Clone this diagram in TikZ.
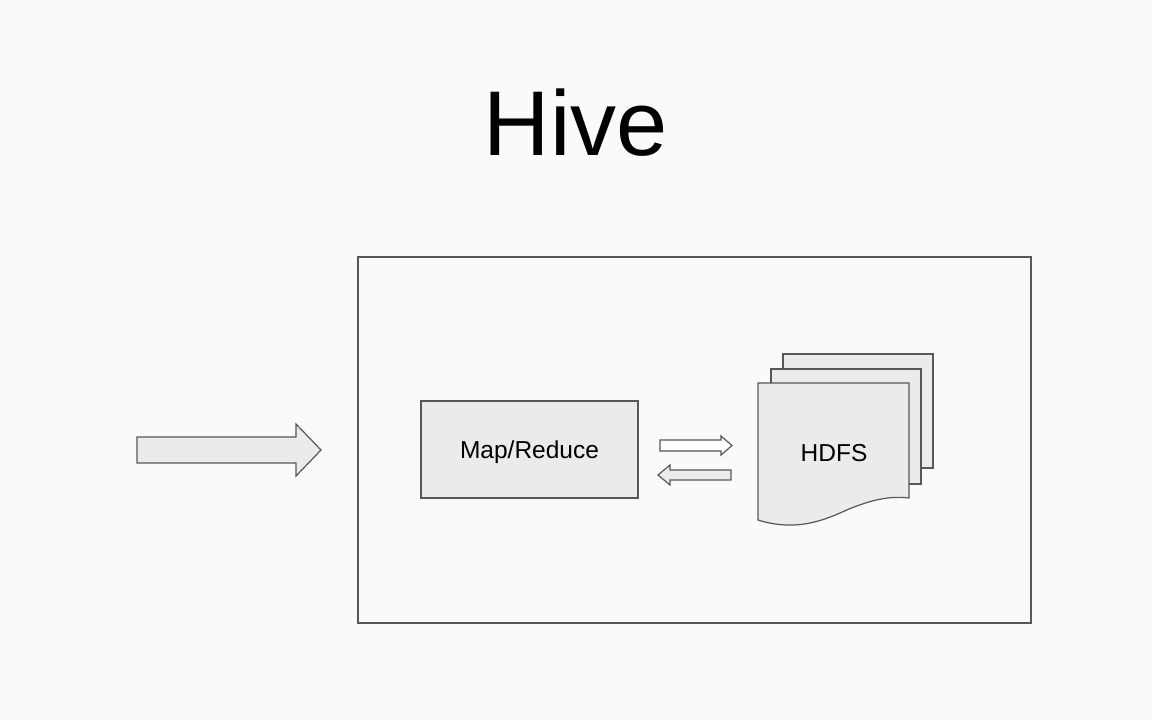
\documentclass[tikz,border=0pt]{standalone}
\usepackage{fontspec}
\setmainfont{Liberation Sans}
\begin{document}
\begin{tikzpicture}[x=1pt,y=-1pt,
  shp/.style={draw=black!66,line width=1.2pt,fill=black!8,line join=miter},
  lbl/.style={font=\fontsize{24.5}{28}\selectfont,text=black}]
\useasboundingbox[fill=white!98!black] (0,0) rectangle (1152,720);
% title
\node[font=\fontsize{92}{96}\selectfont] (title) at (576,123) {Hive};
% outer frame
\draw[draw=black!66,line width=1.2pt] (358,257) rectangle (1031,623);
\node[inner sep=0] (frame) at (694.5,440) {};
% Map/Reduce box
\draw[shp] (421,401) rectangle (638,498);
\node[lbl] (mr) at (529.5,452.5) {Map/Reduce};
% input arrow
\draw[shp] (137,437) -- (296,437) -- (296,424) -- (321,450) -- (296,476) -- (296,463) -- (137,463) -- cycle;
% small arrows
\draw[shp,fill=white] (660,440) -- (721,440) -- (721,436) -- (732,445.5) -- (721,455) -- (721,451) -- (660,451) -- cycle;
\draw[shp] (731,470) -- (670,470) -- (670,465) -- (658,475) -- (670,485) -- (670,480) -- (731,480) -- cycle;
% HDFS pages
\draw[shp] (783,354) rectangle (933,468);
\draw[shp] (771,369) rectangle (921,484);
\draw[shp] (758,383) -- (909,383) -- (909,498)
  .. controls (885,495) and (862,503) .. (840,513)
  .. controls (815,524) and (790,530) .. (758,520) -- cycle;
\node[lbl] (hdfs) at (834,453) {HDFS};
\end{tikzpicture}
\end{document}
